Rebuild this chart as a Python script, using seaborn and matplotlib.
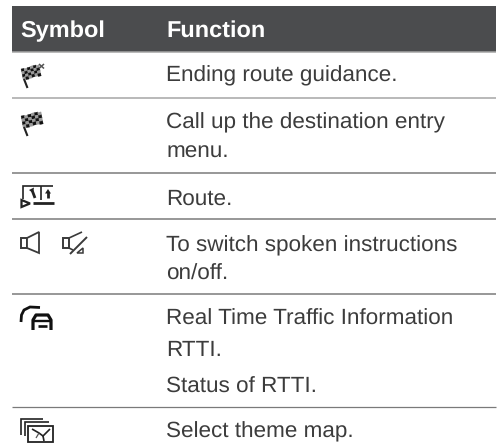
import numpy as np
import matplotlib
matplotlib.use("Agg")
import matplotlib.pyplot as plt
import seaborn as sns

# table contents
headers = ["Symbol", "Function"]
function_lines = [
    "Ending route guidance.",
    "Call up the destination entry",
    "menu.",
    "Route.",
    "To switch spoken instructions",
    "on/off.",
    "Real Time Traffic Information",
    "RTTI.",
    "Status of RTTI.",
    "Select theme map.",
]
line_baselines = [81, 128, 158, 205, 251, 280, 325, 356, 393, 437]
rule_rows = [52, 97.5, 173, 219, 294, 407]

INK = "#3c3c3c"
ICON = "#222222"

sns.set_theme(style="white")
plt.rcParams["font.family"] = ["Liberation Sans", "DejaVu Sans"]
plt.rcParams["text.hinting"] = "no_hinting"
plt.rcParams["text.hinting_factor"] = 8

fig = plt.figure(figsize=(4.98, 4.47), dpi=100)
ax = fig.add_axes([0, 0, 1, 1])
ax.set_xlim(0, 498)
ax.set_ylim(447, 0)
ax.axis("off")


def stroke(xs, ys, lw=1.0, color=ICON):
    ax.plot(xs, ys, color=color, lw=lw, solid_capstyle="butt", solid_joinstyle="miter")


def flag(x0, y0, w, h, nx=6, ny=4, tilt=0.75):
    # checkered flag leaning to the right
    cw, ch = w / nx, h / ny
    for i in range(nx):
        for j in range(ny):
            cx = x0 + i * cw + j * 0.55
            cy = y0 + j * ch - i * tilt + np.sin(i * 1.4) * 0.5
            shade = "#111111" if (i + j) % 2 == 0 else "#9a9a9a"
            ax.fill([cx, cx + cw, cx + cw + 0.55, cx + 0.55],
                    [cy, cy - tilt, cy - tilt + ch, cy + ch],
                    color=shade, lw=0.2)
    stroke([x0 + 3, x0 + 6.5], [y0 + h - 1, y0 + h + 8], lw=1.5)


def route_icon():
    stroke([23, 23, 53], [199, 186, 186], lw=1.2)
    stroke([41, 41], [186, 200], lw=1.2)
    stroke([33, 54], [203, 203], lw=2.0)
    ax.fill([21.5, 30, 21.5], [200, 203.5, 207], facecolor="white", edgecolor=ICON, lw=1.6)
    stroke([32, 35], [190, 198], lw=2.0)
    ax.fill([29, 34, 33], [190, 187.5, 193], color=ICON, lw=0)
    stroke([48, 48], [192, 198], lw=2.0)
    ax.fill([45, 51, 48], [193.5, 193.5, 189], color=ICON, lw=0)


def speaker_icon(x0, muted=False):
    c = "#3a3a3a"
    ax.fill([x0, x0 + 6, x0 + 6, x0], [238, 238, 248, 248],
            facecolor="white", edgecolor=c, lw=1.4)
    if muted:
        stroke([x0 + 6, x0 + 19], [238, 232], lw=1.2, color=c)
        stroke([x0 + 6, x0 + 10], [248, 250], lw=1.2, color=c)
        stroke([x0 + 7, x0 + 24], [254, 237], lw=1.4, color=c)
        ax.fill([x0 + 14, x0 + 20, x0 + 20], [253, 248, 253],
                facecolor="white", edgecolor=c, lw=1.1)
    else:
        ax.fill([x0 + 6, x0 + 18, x0 + 18, x0 + 6], [238, 232, 253, 248],
                facecolor="white", edgecolor=c, lw=1.3)


def rtti_icon():
    stroke([21, 21.5, 24, 30, 40], [322, 315, 310, 307, 307.5], lw=2.0, color="#111111")
    ax.plot([33, 33, 36, 48, 51, 51], [330, 320, 315, 315, 320, 330],
            color="#111111", lw=2.3, solid_joinstyle="round", solid_capstyle="butt")
    stroke([33, 51], [321, 321], lw=1.7, color="#111111")
    stroke([38, 47], [326, 326], lw=1.9, color="#111111")


def map_icon():
    stroke([21, 21, 43], [435, 419, 419], lw=1.2)
    stroke([24.5, 24.5, 49], [436, 422, 422], lw=1.2)
    ax.fill([28, 53, 53, 28], [425.5, 425.5, 441.5, 441.5],
            facecolor="white", edgecolor=ICON, lw=1.3)
    stroke([32, 39, 43, 50], [429, 433, 436, 429], lw=1.2)
    stroke([43, 44], [436, 441], lw=1.2)
    stroke([36, 39], [438, 433], lw=0.9, color="#555555")


# header band and row rules
ax.fill([12, 496, 496, 12], [6, 6, 52, 52], color="#4b4c4e", lw=0)
for i, y in enumerate(rule_rows):
    ax.plot([12, 496], [y, y], color="#a5a5a5" if i < 2 else "#7a7a7a",
            lw=1.1 if i < 5 else 0.9, solid_capstyle="butt")

ax.text(20, 37, headers[0], color="white", fontsize=16.9, fontweight="bold", va="baseline")
ax.text(166, 37, headers[1], color="white", fontsize=16.9, fontweight="bold", va="baseline")

for label, y in zip(function_lines, line_baselines):
    ax.text(166, y, label, color=INK, fontsize=16.2, va="baseline")

# symbol column
flag(21, 69, 18, 11)
stroke([39, 44], [64, 68.5], lw=1.1, color="#555555")
stroke([44, 39], [64, 68.5], lw=1.1, color="#555555")
flag(21, 116, 20, 12)
route_icon()
speaker_icon(21)
speaker_icon(63, muted=True)
rtti_icon()
map_icon()

sns.despine(ax=ax, left=True, bottom=True)
fig.savefig("out.png", dpi=100)
